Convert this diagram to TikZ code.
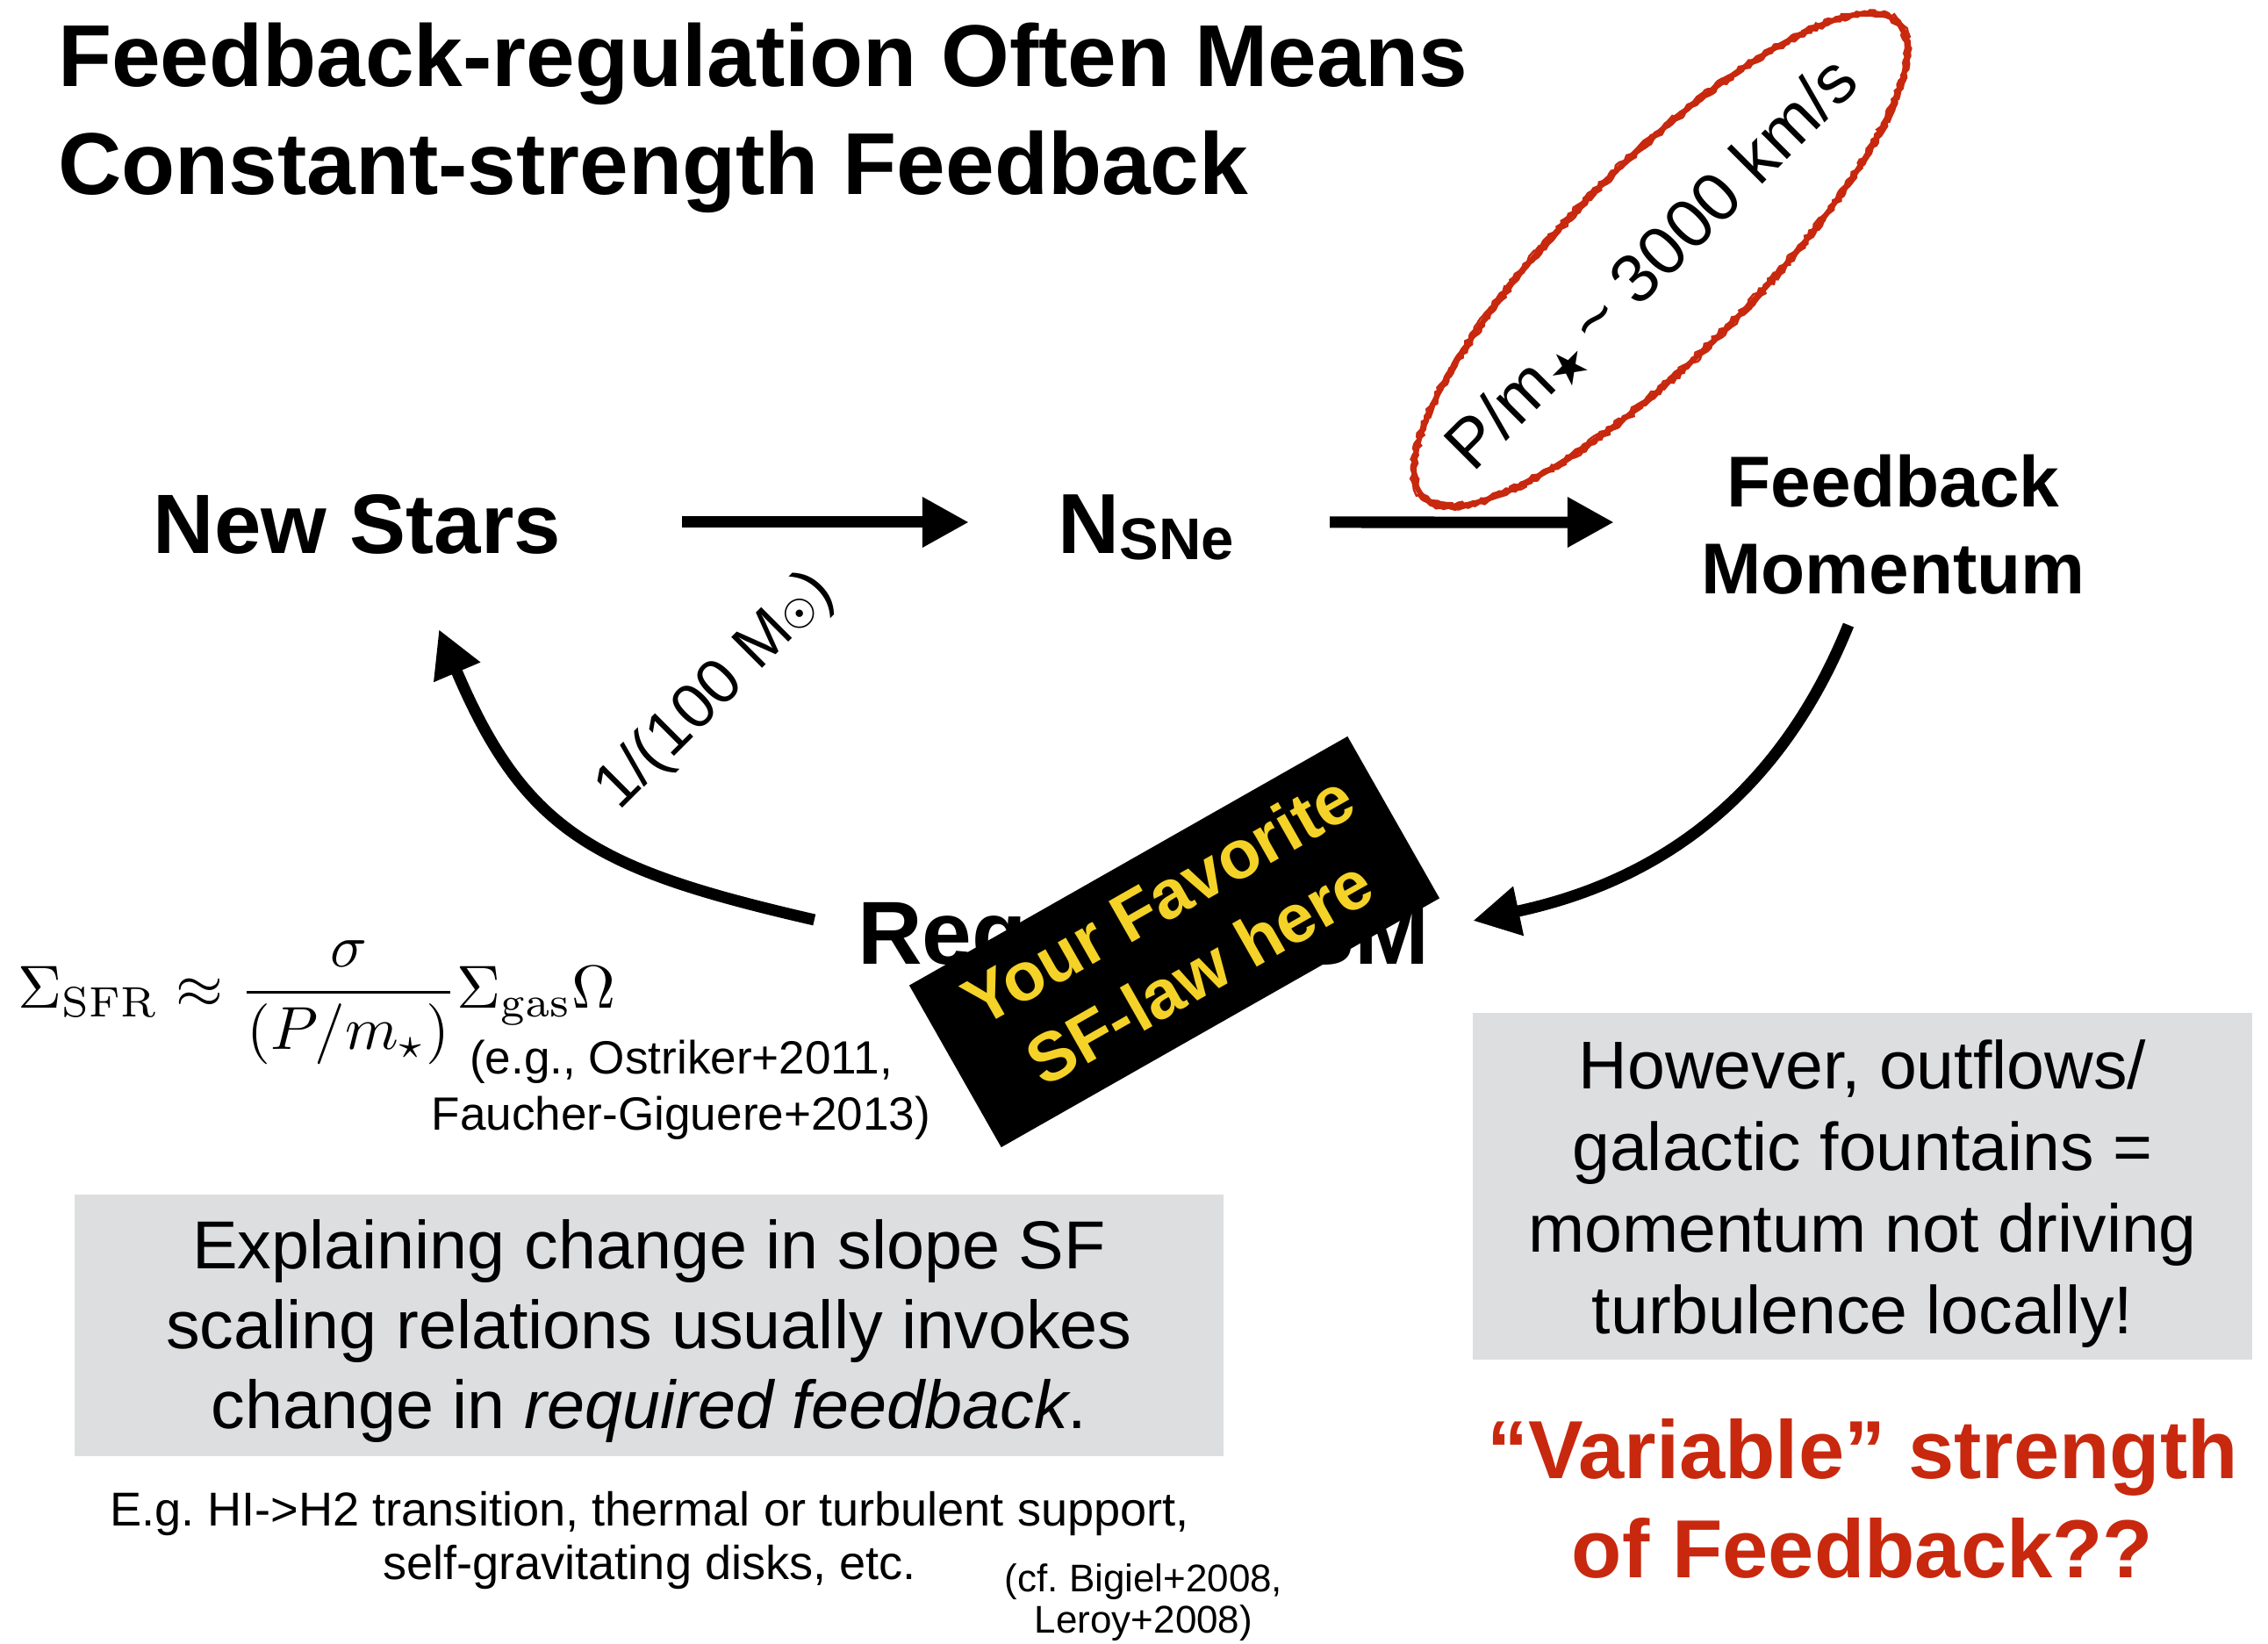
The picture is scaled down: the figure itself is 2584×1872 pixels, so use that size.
\documentclass[tikz,border=0pt]{standalone}
\usepackage[no-math]{fontspec}
\setmainfont{Liberation Sans}
\newfontfamily\dejavu{DejaVu Sans}
\usetikzlibrary{arrows.meta,decorations.pathmorphing}

\definecolor{fbred}{RGB}{200,40,14}
\definecolor{boxgray}{RGB}{221,222,224}
\definecolor{stickeryellow}{RGB}{244,210,40}

% font size / baseline skip in pt
\newcommand\fs[2]{\fontsize{#1pt}{#2pt}\selectfont}
% stacked lines whose baseline is the first line
\newcommand\txtlines[2][c]{\begin{tabular}[t]{@{}#1@{}}#2\end{tabular}}

\begin{document}
\begin{tikzpicture}[x=0.01cm,y=0.01cm,
  every node/.style={inner sep=0pt,outer sep=0pt},
  lbl/.style={anchor=base},
  flowarrow/.style={line width=0.13cm,-{Triangle[length=0.53cm,width=0.54cm]}},
  graybox/.style={fill=boxgray,draw=none},
  boldbig/.style={font=\bfseries\fs{27.3}{33}},
  crayon/.style={fbred,line width=0.025cm,decorate,
    decoration={random steps,segment length=0.04cm,amplitude=0.018cm}},
]
\fill[white] (0,0) rectangle (2584,-1872);
\useasboundingbox (0,0) rectangle (2584,-1872);

% ---- heading ----
\node[anchor=base west,font=\bfseries\fs{28.45}{35}] (title) at (66,-98)
  {\txtlines[l]{Feedback-regulation Often Means\\Constant-strength Feedback}};

% ---- cycle nodes ----
\node[lbl,boldbig] (stars) at (407,-630) {New Stars};
\node[lbl,font=\bfseries\fs{27.6}{33}] (nsne) at (1306,-630)
  {N\raisebox{-0.07cm}{\fs{19.06}{22}SNe}};
\node[lbl,font=\bfseries\fs{23.33}{28.17}] (fbm) at (2157,-577)
  {\txtlines{Feedback\\Momentum}};
\node[lbl,font=\bfseries\fs{29}{34}] (req) at (1303,-1098) {Required ISM};

% ---- straight arrows ----
\draw[flowarrow] ([shift={(3.70cm,0.35cm)}]stars.base) -- ([shift={(-2.02cm,0.35cm)}]nsne.base);
\draw[flowarrow] ([shift={(2.09cm,0.35cm)}]nsne.base) -- ([shift={(-3.18cm,-0.18cm)}]fbm.base);

% ---- curved arrows ----
\draw[flowarrow] ([shift={(-0.51cm,-1.35cm)}]fbm.base)
  to[out=248,in=12] ([shift={(3.75cm,0.49cm)}]req.base);
\draw[flowarrow] ([shift={(-3.75cm,0.50cm)}]req.base)
  to[out=167,in=293,looseness=1.2] ([shift={(0.93cm,-0.87cm)}]stars.base);

% ---- arc label ----
\node[lbl,rotate=45,font=\fs{20.5}{24}] (perstar) at (829,-801)
  {1/(100 M\raisebox{-0.03cm}{\dejavu\fs{13}{14}☉})};

% ---- momentum per stellar mass, circled ----
\node[lbl,rotate=45,font=\fs{22.2}{26}] (pm) at (1900,-318)
  {P/m\raisebox{-0.09cm}{\dejavu\fs{15}{16}★}\,\textasciitilde{} 3000 km/s};
\draw[fbred,line width=0.06cm,rotate around={45:(1892,-296)}]
  (1892,-296) ellipse [x radius=3.82cm,y radius=1.08cm];
\draw[crayon,rotate around={45:(1892,-296)}]
  (1892,-296) ellipse [x radius=3.85cm,y radius=1.11cm];
\draw[crayon,rotate around={45:(1892,-296)}]
  (1892,-296) ellipse [x radius=3.79cm,y radius=1.05cm];

% ---- sticker ----
\node[rotate=29.6,fill=black,minimum width=5.74cm,minimum height=2.12cm] (sticker) at (1338,-1073) {};
\node[rotate=29.6,align=center,text=stickeryellow,font=\bfseries\fs{22.2}{27}] (stickertext) at (1343,-1066)
  {Your Favorite\\SF-law here};

% ---- star formation law ----
\node[anchor=base west] (sfr) at (21,-1148)
  {\resizebox{6.8cm}{!}{$\displaystyle \Sigma_{\rm SFR}\approx\frac{\sigma}{(P/m_\star)}\Sigma_{\rm gas}\Omega$}};
\node[lbl,font=\fs{15.1}{18.2}] (refs) at (776,-1223)
  {\txtlines{(e.g., Ostriker+2011,\\Faucher-Giguere+2013)}};

% ---- left grey box ----
\node[graybox,minimum width=13.09cm,minimum height=2.98cm] (leftbox) at (739.5,-1510) {};
\node[lbl,font=\fs{22}{25.9}] (lefttext) at (739.5,-1445)
  {\txtlines{Explaining change in slope SF\\scaling relations usually invokes\\change in \textit{required feedback}.}};
\node[lbl,font=\fs{15.4}{17.6}] (examples) at (740,-1738)
  {\txtlines{E.g.\ HI->H2 transition, thermal or turbulent support,\\self-gravitating disks, etc.}};
\node[lbl,font=\fs{12.5}{13.4}] (cf) at (1303,-1813)
  {\txtlines{(cf.\ Bigiel+2008,\\Leroy+2008)}};

% ---- right grey box ----
\node[graybox,minimum width=8.88cm,minimum height=3.95cm] (rightbox) at (2122,-1351.5) {};
\node[lbl,font=\fs{21.9}{26.5}] (righttext) at (2122,-1240)
  {\txtlines{However, outflows/\\galactic fountains =\\momentum not driving\\turbulence locally!}};

\node[lbl,text=fbred,font=\bfseries\fs{26.7}{32.15}] (variable) at (2122,-1684)
  {\txtlines{“Variable” strength\\of Feedback??}};
\end{tikzpicture}
\end{document}
